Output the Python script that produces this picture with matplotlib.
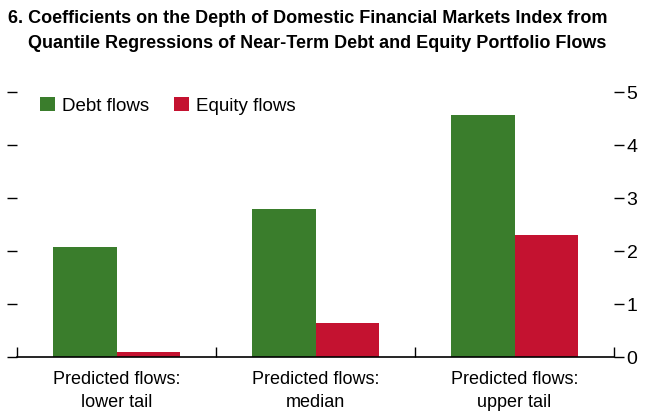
import matplotlib.pyplot as plt
import numpy as np
from matplotlib import font_manager

# data
categories = ["Predicted flows:\nlower tail", "Predicted flows:\nmedian", "Predicted flows:\nupper tail"]
debt_flows = [2.08, 2.79, 4.57]
equity_flows = [0.10, 0.64, 2.30]
yticks = [0, 1, 2, 3, 4, 5]

names = {f.name for f in font_manager.fontManager.ttflist}
fam = "Liberation Sans Narrow" if "Liberation Sans Narrow" in names else "Liberation Sans"
plt.rcParams['font.family'] = [fam, 'DejaVu Sans']

fig = plt.figure(figsize=(6.53, 4.11), dpi=100)
ax = fig.add_axes([17/653, 1 - 357/411, (614-17)/653, (357-92)/411])

x = np.arange(len(categories))
w = 0.32
ax.bar(x - w/2, debt_flows, w, color="#3A7D2C", label="Debt flows")
ax.bar(x + w/2, equity_flows, w, color="#C41230", label="Equity flows")

ax.set_xlim(-0.5, 2.5)
ax.set_ylim(0, 5)
ax.set_yticks(yticks)
ax.yaxis.set_ticks_position('both')
ax.tick_params(axis='y', which='both', direction='out', length=7, width=1,
               labelleft=False, labelright=True, labelsize=14, pad=2)
ax.set_xticks(x)
ax.set_xticklabels(categories, fontsize=13, linespacing=1.45)
ax.tick_params(axis='x', which='major', length=0, pad=10)
ax.set_xticks([-0.5, 0.5, 1.5, 2.5], minor=True)
ax.tick_params(axis='x', which='minor', direction='in', length=7, width=1)

for s in ['top', 'left', 'right']:
    ax.spines[s].set_visible(False)
ax.spines['bottom'].set_linewidth(1.2)

ax.legend(loc='upper left', bbox_to_anchor=(0.01, 1.045), ncol=2, frameon=False,
          fontsize=13.5, handlelength=0.8, handleheight=0.8, handletextpad=0.4,
          columnspacing=1.3)

fig.text(8/653, 1 - 10/411, "6. Coefficients on the Depth of Domestic Financial Markets Index from\n"
         "    Quantile Regressions of Near-Term Debt and Equity Portfolio Flows",
         fontsize=13, fontweight='bold', va='top', ha='left', linespacing=1.6)

fig.savefig("out.png", dpi=100)
